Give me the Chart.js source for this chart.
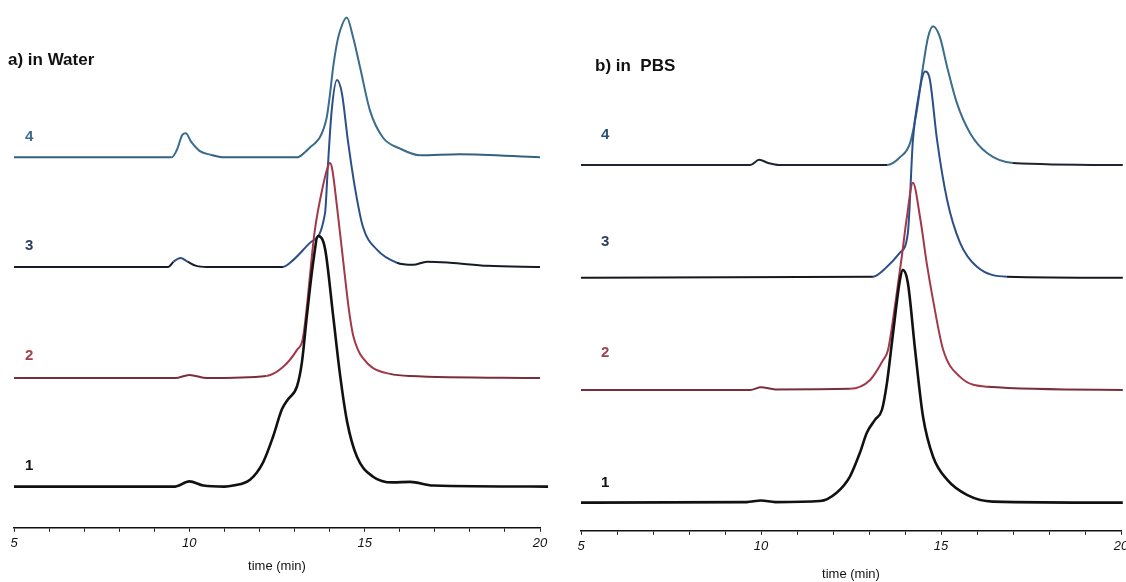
<!DOCTYPE html>
<html>
<head>
<meta charset="utf-8">
<script src="https://cdn.jsdelivr.net/npm/chart.js@4"></script>
<style>
  html, body { margin: 0; padding: 0; background: #fff; overflow: hidden; }
  body { width: 1126px; height: 582px; position: relative; }
  canvas { position: absolute; top: 0; }
  #water { left: 0; }
  #pbs { left: 566px; }
  .panel-title {
    position: absolute;
    font-family: "Liberation Sans", Arial, sans-serif;
    font-weight: bold;
    font-size: 17px;
    color: #111;
    white-space: pre;
  }
</style>
</head>
<body>
<canvas id="water" width="560" height="582"></canvas>
<canvas id="pbs" width="580" height="582"></canvas>
<div class="panel-title" style="left:8px; top:50px;">a) in Water</div>
<div class="panel-title" style="left:595px; top:56px;">b) in  PBS</div>
<script>
// Chromatograms: [time (min), detector signal above the trace's own baseline]
const water1 = [[5, 0], [9.6, 0], [10.0, 1.0], [10.4, 0.2], [11.0, 0], [11.25, 0.2], [11.73, 1.3], [12.1, 4.6],
  [12.39, 9.6], [12.64, 14.8], [12.81, 16.7], [13.07, 19.2], [13.21, 23.8], [13.35, 32.6], [13.53, 42.9],
  [13.67, 48.0], [13.87, 45.6], [14.1, 32.8], [14.3, 21.3], [14.5, 12.4], [14.78, 5.7], [15.24, 1.9],
  [15.8, 0.8], [16.3, 0.9], [16.95, 0.2], [20.23, 0]];
const water2 = [[5, 0], [9.6, 0], [10.0, 0.6], [10.5, 0], [12.2, 0.4], [12.67, 2.1], [13.07, 5.4], [13.24, 7.7],
  [13.58, 28.4], [13.81, 36.8], [13.95, 40.5], [14.01, 41.2], [14.07, 40.2], [14.21, 32.9], [14.38, 22.9],
  [14.55, 13.1], [14.67, 8.2], [14.81, 5.4], [14.95, 3.8], [15.24, 1.9], [15.72, 0.8], [16.29, 0.4], [20, 0]];
const water3 = [[5, 0], [9.4, 0], [9.55, 1.0], [9.75, 1.7], [9.95, 1.0], [10.2, 0.2], [10.5, 0], [12.67, 0],
  [12.96, 1.3], [13.44, 4.6], [13.87, 10.3], [13.95, 19.2], [14.06, 30.0], [14.21, 35.8], [14.35, 33.3],
  [14.52, 24.3], [14.72, 15.3], [14.95, 7.7], [15.35, 3.3], [15.92, 0.8], [16.38, 0.4], [16.78, 1.0],
  [17.43, 0.8], [18.5, 0.2], [20, 0]];
const water4 = [[5, 0], [9.5, 0], [9.65, 1.5], [9.8, 4.3], [9.9, 4.6], [10.05, 3.0], [10.3, 1.2], [10.6, 0.5],
  [11.0, 0], [13.07, 0], [13.3, 1.0], [13.44, 1.9], [13.6, 2.8], [13.72, 3.8], [13.82, 5.3], [13.92, 7.7],
  [14.0, 11.5], [14.1, 17.2], [14.2, 21.5], [14.3, 24.3], [14.49, 26.8], [14.67, 23.0], [14.87, 17.2],
  [15.15, 9.0], [15.52, 3.8], [16.0, 1.7], [16.58, 0.4], [17.7, 0.6], [20, 0]];

const pbs1 = [[5, 0], [9.6, 0.1], [10.0, 0.4], [10.4, 0.1], [11.64, 0.3], [12.1, 1.9], [12.47, 5.0], [12.75, 9.6],
  [12.94, 13.4], [13.17, 15.9], [13.36, 17.8], [13.5, 23.0], [13.67, 32.6], [13.86, 42.7], [13.94, 44.6],
  [14.08, 42.1], [14.28, 29.3], [14.5, 16.5], [14.78, 8.8], [15.17, 4.4], [15.72, 1.5], [16.44, 0.2], [20.05, 0]];
const pbs2 = [[5, 0], [9.7, 0], [10.0, 0.5], [10.4, 0.1], [12.47, 0.2], [13.03, 1.9], [13.39, 5.7], [13.53, 7.7],
  [13.75, 17.5], [13.92, 26.0], [14.05, 33.0], [14.22, 39.7], [14.42, 33.0], [14.61, 24.0], [14.78, 17.2],
  [15.06, 7.7], [15.53, 2.5], [16.28, 0.6], [20.05, 0]];
const pbs3 = [[5, 0], [13.11, 0.2], [13.5, 2.1], [13.86, 4.8], [14.08, 8.6], [14.22, 26.4], [14.36, 34.1],
  [14.56, 39.5], [14.69, 38.0], [14.89, 26.4], [15.17, 14.9], [15.53, 6.7], [16.0, 2.1], [16.83, 0.2], [20.05, 0]];
const pbs4 = [[5, 0], [9.7, 0], [9.95, 1.0], [10.2, 0.4], [10.5, 0], [13.5, 0], [13.86, 1.5], [14.14, 4.2],
  [14.33, 10.5], [14.5, 18.8], [14.64, 24.5], [14.78, 26.6], [14.97, 24.5], [15.17, 18.8], [15.44, 11.9],
  [15.81, 6.1], [16.28, 2.3], [17.0, 0.4], [20.05, 0]];

// Vertical offsets of the stacked traces (samples 1..4)
const waterOffsets = [7.9, 28.7, 50, 71];
const pbsOffsets = [5.4, 27.0, 48.5, 70.1];

// Sample numbers written over each baseline
const sampleLabels = ['1', '2', '3', '4'];
const waterLabelTime = 5.43;
const waterLabelRise = [4.0, 4.2, 4.0, 4.0];
const pbsLabelTime = 5.67;
const pbsLabelRise = [3.8, 7.1, 6.9, 5.7];

const xTicks = [5, 10, 15, 20];

// line colour of the peaks / of the flat baseline parts, per sample
const waterPeakColors = ['#111111', '#a2384a', '#2d4f88', '#3a6c8c'];
const waterBaseColors = ['#111111', '#7a2e3c', '#161b26', '#35607e'];
const pbsPeakColors = ['#111111', '#a2384a', '#2d4f88', '#3a6c8c'];
const pbsBaseColors = ['#111111', '#7a2e3c', '#16181e', '#1c2530'];
const waterLabelColors = ['#111111', '#a2404e', '#2c3e5e', '#3b6a8c'];
const pbsLabelColors = ['#111111', '#a2404e', '#2c3e5e', '#2a4f78'];

function buildDatasets(traces, offsets, peakColors, baseColors) {
  return traces.map((trace, i) => ({
    data: trace.map(p => ({ x: p[0], y: offsets[i] + p[1] })),
    borderColor: peakColors[i],
    borderWidth: i === 0 ? 2.6 : 2,
    pointRadius: 0,
    cubicInterpolationMode: 'monotone',
    clip: false,
    segment: {
      borderColor: ctx => {
        const s = Math.max(ctx.p0.parsed.y, ctx.p1.parsed.y) - offsets[i];
        return s > 1.2 ? peakColors[i] : baseColors[i];
      }
    }
  }));
}

// writes the sample number just above the start of each trace
const sampleLabelPlugin = {
  id: 'sampleLabels',
  afterDatasetsDraw(chart, args, opts) {
    const { ctx, scales } = chart;
    ctx.save();
    ctx.font = 'bold 15px "Liberation Sans", Arial, sans-serif';
    ctx.textAlign = 'center';
    ctx.textBaseline = 'middle';
    sampleLabels.forEach((txt, i) => {
      ctx.fillStyle = opts.colors[i];
      ctx.fillText(txt, scales.x.getPixelForValue(opts.time),
        scales.y.getPixelForValue(opts.offsets[i] + opts.rise[i]));
    });
    ctx.restore();
  }
};

function makeChart(id, traces, offsets, peakColors, baseColors, labelOpts, padding, titlePadTop) {
  return new Chart(document.getElementById(id), {
    type: 'line',
    data: { datasets: buildDatasets(traces, offsets, peakColors, baseColors) },
    options: {
      responsive: false,
      animation: false,
      layout: { padding },
      plugins: {
        legend: { display: false },
        tooltip: { enabled: false },
        sampleLabels: labelOpts
      },
      scales: {
        x: {
          type: 'linear',
          min: 5,
          max: 20,
          border: { display: true, color: '#111', width: 1.5 },
          grid: { drawOnChartArea: false, color: '#222', tickLength: 4, tickWidth: 1 },
          ticks: {
            stepSize: 1,
            autoSkip: false,
            maxRotation: 0,
            padding: 4,
            color: '#111',
            font: { family: '"Liberation Sans", Arial, sans-serif', size: 13, style: 'italic' },
            callback: v => (xTicks.includes(v) ? String(v) : '')
          },
          title: {
            display: true,
            text: 'time (min)',
            color: '#111',
            padding: { top: titlePadTop, bottom: 0 },
            font: { family: '"Liberation Sans", Arial, sans-serif', size: 13 }
          }
        },
        y: { display: false, min: 0, max: 100 }
      }
    },
    plugins: [sampleLabelPlugin]
  });
}

makeChart('water', [water1, water2, water3, water4], waterOffsets, waterPeakColors, waterBaseColors,
  { time: waterLabelTime, offsets: waterOffsets, rise: waterLabelRise, colors: waterLabelColors },
  { left: 14, right: 20, top: 6, bottom: 8 }, 3);

makeChart('pbs', [pbs1, pbs2, pbs3, pbs4], pbsOffsets, pbsPeakColors, pbsBaseColors,
  { time: pbsLabelTime, offsets: pbsOffsets, rise: pbsLabelRise, colors: pbsLabelColors },
  { left: 15, right: 25, top: 9, bottom: 0 }, 8);
</script>
</body>
</html>
